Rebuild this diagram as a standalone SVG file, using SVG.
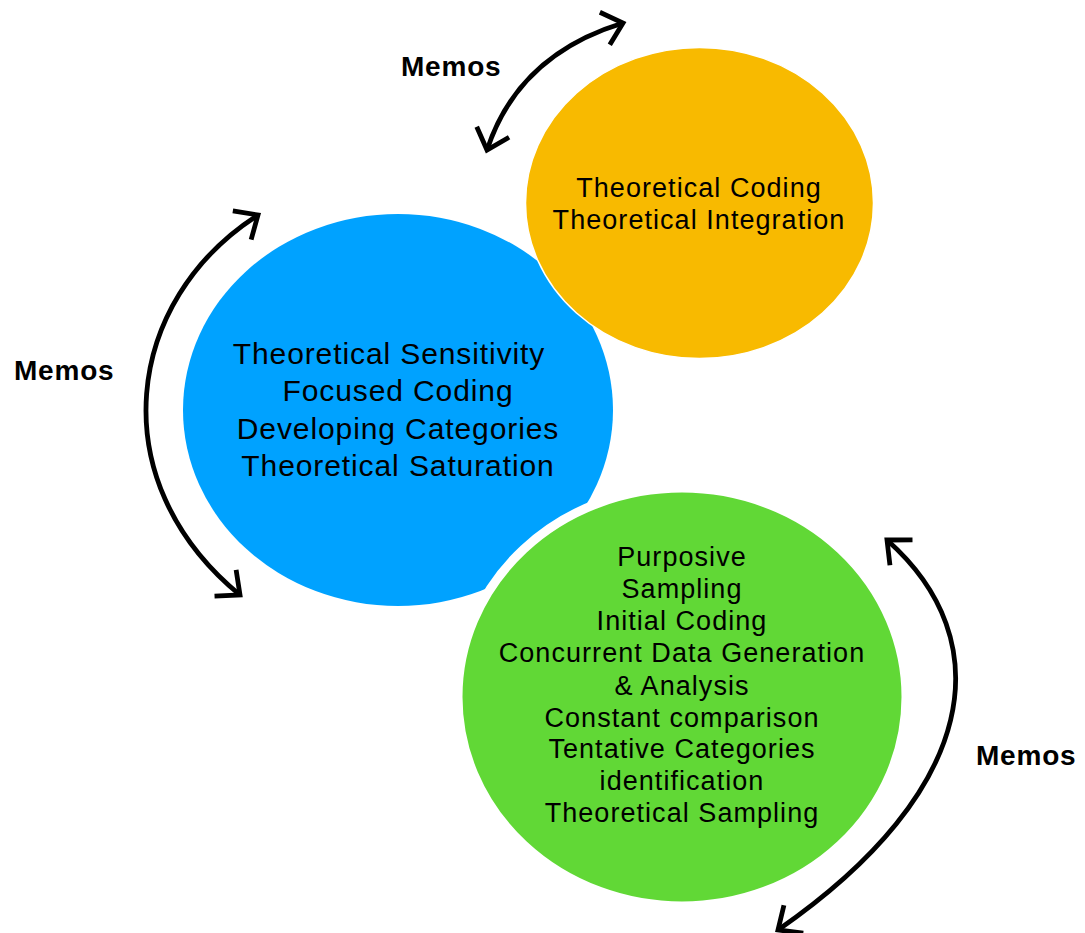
<svg xmlns="http://www.w3.org/2000/svg" width="1085" height="933" viewBox="0 0 1085 933">
  <style>
    .body { font-family: "Liberation Sans", Arial, sans-serif; fill: #000; text-anchor: middle; }
    .big { font-size: 30px; letter-spacing: 0.9px; }
    .mid { font-size: 27px; letter-spacing: 1.05px; }
    .memo { font-family: "Liberation Sans", Arial, sans-serif; font-weight: bold; font-size: 28px; letter-spacing: 0.8px; fill: #000; }
    .cycle { fill: none; stroke: #000; stroke-width: 4.8; marker-start: url(#chev); marker-end: url(#chev); }
  </style>
  <defs>
    <marker id="chev" markerUnits="userSpaceOnUse" viewBox="-30 -25 40 50" refX="0" refY="0" markerWidth="40" markerHeight="50" orient="auto-start-reverse" overflow="visible">
      <path d="M -19 -17 L 0 0 L -19 17" fill="none" stroke="#000" stroke-width="4.8" stroke-linejoin="miter"/>
    </marker>
  </defs>
  <rect width="1085" height="933" fill="#fff"/>

  <g id="node-focused">
    <ellipse cx="398" cy="410" rx="215" ry="196" fill="#00A2FF"/>
    <text class="body big" x="389" y="364">Theoretical Sensitivity</text>
    <text class="body big" x="398" y="401">Focused Coding</text>
    <text class="body big" x="398" y="439">Developing Categories</text>
    <text class="body big" x="398" y="476">Theoretical Saturation</text>
  </g>

  <g id="node-theoretical">
    <ellipse cx="699.5" cy="203" rx="174" ry="155.5" fill="#F8BA00" stroke="#fff" stroke-width="1.5"/>
    <text class="body mid" x="699" y="197">Theoretical Coding</text>
    <text class="body mid" x="699" y="229">Theoretical Integration</text>
  </g>

  <g id="node-initial">
    <ellipse cx="682" cy="697" rx="224" ry="209" fill="#61D836" stroke="#fff" stroke-width="9"/>
    <text class="body mid" x="682" y="566">Purposive</text>
    <text class="body mid" x="682" y="598">Sampling</text>
    <text class="body mid" x="682" y="630">Initial Coding</text>
    <text class="body mid" x="682" y="662">Concurrent Data Generation</text>
    <text class="body mid" x="682" y="695">&amp; Analysis</text>
    <text class="body mid" x="682" y="727">Constant comparison</text>
    <text class="body mid" x="682" y="758">Tentative Categories</text>
    <text class="body mid" x="682" y="790">identification</text>
    <text class="body mid" x="682" y="822">Theoretical Sampling</text>
  </g>

  <g id="connectors">
    <path class="cycle" d="M 487 150 Q 518 55 623 23"/>
    <path class="cycle" d="M 258 215 C 125 300 100 480 240 595"/>
    <path class="cycle" d="M 887 540 C 1000 640 980 790 778 930"/>
  </g>

  <g id="labels">
    <text class="memo" x="401" y="76">Memos</text>
    <text class="memo" x="14" y="380">Memos</text>
    <text class="memo" x="976" y="765">Memos</text>
  </g>
</svg>
